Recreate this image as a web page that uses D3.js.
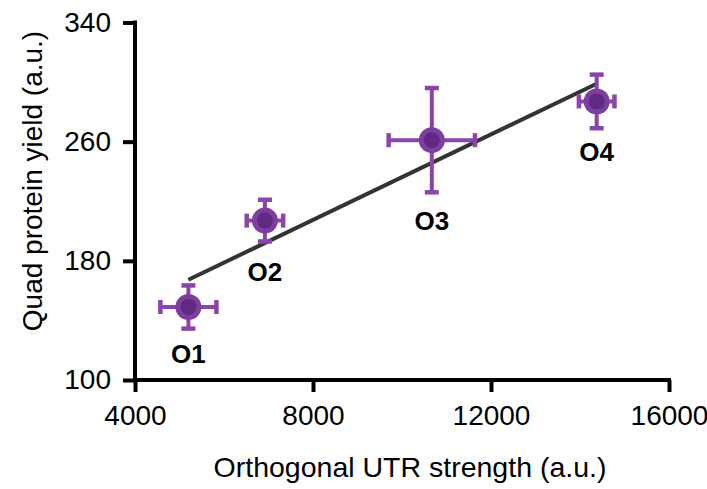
<!DOCTYPE html>
<html>
<head>
<meta charset="utf-8">
<script src="https://cdn.jsdelivr.net/npm/d3@7"></script>
<style>
body{margin:0;background:#fff;}
text{font-family:"Liberation Sans",Arial,sans-serif;}
</style>
</head>
<body>
<div class="chart"></div>
<script>
// reference values
var labels = ["O1","O2","O3","O4"];
var utr = [5200, 6920, 10670, 14375];
var utrErr = [630, 410, 970, 400];
var yieldVal = [149, 207, 261, 287];
var yieldErr = [14.5, 14, 35, 18];
var xTicks = [4000, 8000, 12000, 16000];
var yTicks = [100, 180, 260, 340];

var W = 707, H = 489;
var svg = d3.select("div.chart").append("svg")
    .attr("width", W)
    .attr("height", H);

var x = d3.scaleLinear().domain([4000,16000]).range([135,669]);
var y = d3.scaleLinear().domain([100,340]).range([380,22.5]);

var pts = labels.map(function(l,i){
    return {label:l, x:utr[i], xe:utrErr[i], y:yieldVal[i], ye:yieldErr[i]};
});

// least squares fit, drawn over the range of the data
var mx = d3.mean(utr), my = d3.mean(yieldVal);
var sxy = d3.sum(utr, function(v,i){ return (v-mx)*(yieldVal[i]-my); });
var sxx = d3.sum(utr, function(v){ return (v-mx)*(v-mx); });
var slope = sxy/sxx, icpt = my - slope*mx;
var x0 = d3.min(utr), x1 = d3.max(utr);

// axes
var xAxis = svg.append("g")
    .attr("transform","translate(0,"+y(100)+")")
    .call(d3.axisBottom(x).tickValues(xTicks).tickSize(12).tickPadding(13).tickFormat(d3.format("d")));
var yAxis = svg.append("g")
    .attr("transform","translate("+x(4000)+",0)")
    .call(d3.axisLeft(y).tickValues(yTicks).tickSize(12).tickPadding(12).tickFormat(d3.format("d")));
[xAxis,yAxis].forEach(function(a){
    a.select(".domain").attr("stroke","#000").attr("stroke-width",4)
        .attr("d", a===xAxis ? "M"+(x(4000)-2)+",0H"+(x(16000)+2) : "M0,"+(y(340)-2)+"V"+(y(100)+2));
    a.selectAll(".tick line").attr("stroke","#000").attr("stroke-width",4);
    a.selectAll(".tick text").attr("font-size","28px").attr("fill","#000")
        .attr("font-family","Liberation Sans, Arial, sans-serif");
});

// fit line
svg.append("line")
    .attr("x1",x(x0)).attr("y1",y(slope*x0+icpt))
    .attr("x2",x(x1)).attr("y2",y(slope*x1+icpt))
    .attr("stroke","#333").attr("stroke-width",4);

var barCol = "#8b44aa";
var g = svg.selectAll("g.pt").data(pts).enter().append("g").attr("class","pt");
// horizontal error bars
g.append("line")
    .attr("x1",function(d){return x(d.x-d.xe);}).attr("x2",function(d){return x(d.x+d.xe);})
    .attr("y1",function(d){return y(d.y);}).attr("y2",function(d){return y(d.y);})
    .attr("stroke",barCol).attr("stroke-width",4);
// vertical error bars
g.append("line")
    .attr("x1",function(d){return x(d.x);}).attr("x2",function(d){return x(d.x);})
    .attr("y1",function(d){return y(d.y-d.ye);}).attr("y2",function(d){return y(d.y+d.ye);})
    .attr("stroke",barCol).attr("stroke-width",4);
// caps
[-1,1].forEach(function(s){
    g.append("line")
        .attr("x1",function(d){return x(d.x+s*d.xe);}).attr("x2",function(d){return x(d.x+s*d.xe);})
        .attr("y1",function(d){return y(d.y)-7;}).attr("y2",function(d){return y(d.y)+7;})
        .attr("stroke",barCol).attr("stroke-width",4.5);
    g.append("line")
        .attr("y1",function(d){return y(d.y+s*d.ye);}).attr("y2",function(d){return y(d.y+s*d.ye);})
        .attr("x1",function(d){return x(d.x)-7;}).attr("x2",function(d){return x(d.x)+7;})
        .attr("stroke",barCol).attr("stroke-width",4.5);
});
g.append("circle")
    .attr("cx",function(d){return x(d.x);}).attr("cy",function(d){return y(d.y);})
    .attr("r",13).attr("fill","#7e3ea0");
g.append("circle")
    .attr("cx",function(d){return x(d.x);}).attr("cy",function(d){return y(d.y);})
    .attr("r",8).attr("fill","#5f2a7f");

// point labels under the markers
var labOff = [56, 60, 90, 60];
svg.selectAll("text.plab").data(pts).enter().append("text")
    .attr("class","plab")
    .attr("x",function(d){return x(d.x);})
    .attr("y",function(d,i){return y(d.y)+labOff[i];})
    .attr("text-anchor","middle")
    .attr("font-size","26px").attr("font-weight","bold")
    .text(function(d){return d.label;});

svg.append("text")
    .text("Orthogonal UTR strength (a.u.)")
    .attr("x",410).attr("y",477)
    .attr("text-anchor","middle")
    .attr("font-size","28.5px");
svg.append("text")
    .text("Quad protein yield (a.u.)")
    .attr("transform","translate(42,181) rotate(-90)")
    .attr("text-anchor","middle")
    .attr("font-size","28px");
</script>
</body>
</html>
